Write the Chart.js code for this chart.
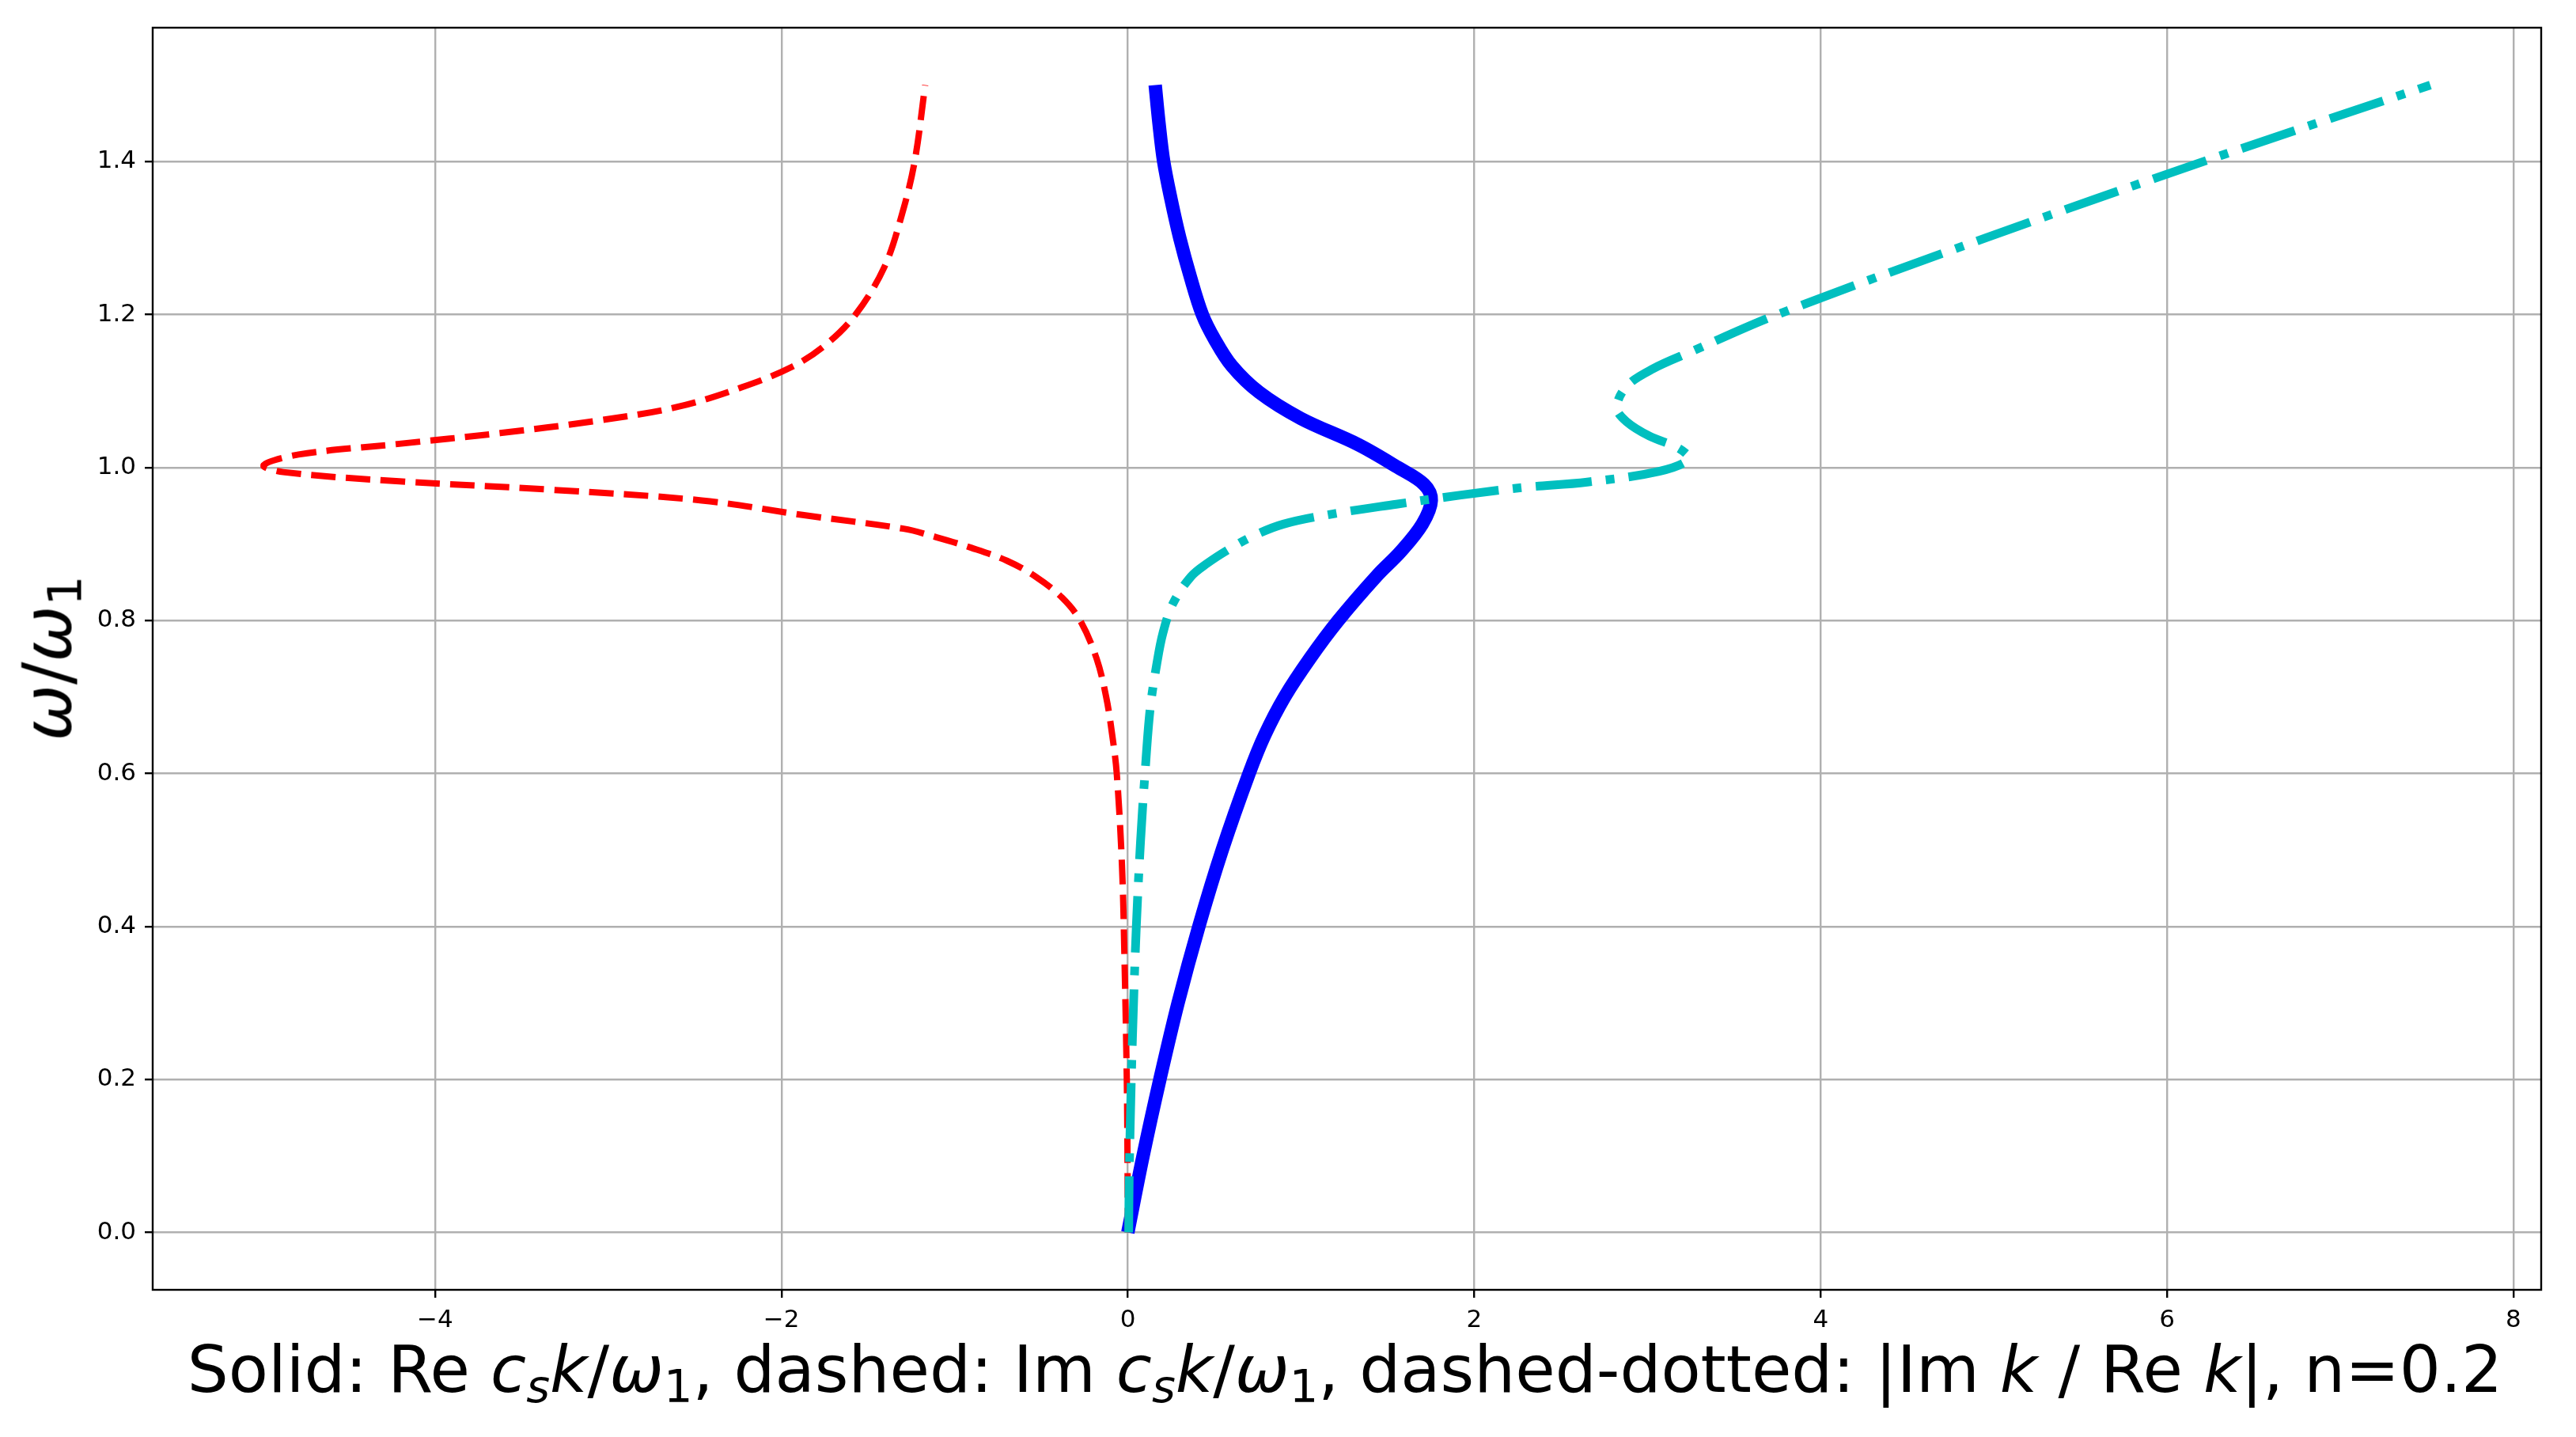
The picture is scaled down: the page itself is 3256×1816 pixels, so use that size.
<!DOCTYPE html>
<html>
<head>
<meta charset="utf-8">
<script src="https://cdn.jsdelivr.net/npm/chart.js@4.4.1/dist/chart.umd.min.js"></script>
<style>
  html, body { margin: 0; padding: 0; background: #fff; }
  #wrap { position: relative; width: 3256px; height: 1816px; background: #fff; }
  #dispersionChart { position: absolute; left: 0; top: 0; }
  .label { position: absolute; font-family: "DejaVu Sans", sans-serif; font-size: 82px; line-height: 1; color: #000; white-space: nowrap; }
  .label i { font-style: italic; }
  .label sub { font-size: 70%; vertical-align: -0.22em; line-height: 0; }
  #xlabel { left: 1700px; top: 1690px; transform: translateX(-50%); }
  #ylabel { font-size: 85px; left: 60px; top: 832px; transform: translate(-50%, -50%) rotate(-90deg); }
</style>
</head>
<body>
<div id="wrap">
  <canvas id="dispersionChart" width="3256" height="1816"></canvas>
  <div class="label" id="ylabel"><i>ω</i>/<i>ω</i><sub>1</sub></div>
  <div class="label" id="xlabel">Solid: Re <i>c</i><sub><i>s</i></sub><i>k</i>/<i>ω</i><sub>1</sub>, dashed: Im <i>c</i><sub><i>s</i></sub><i>k</i>/<i>ω</i><sub>1</sub>, dashed-dotted: |Im <i>k</i> / Re <i>k</i>|, n=0.2</div>
</div>
<script>
// Re c_s k / w1 (solid) against w/w1
const omegaRe = [0, 0.1, 0.2, 0.3, 0.4, 0.5, 0.6, 0.65, 0.7, 0.75, 0.8, 0.859, 0.89, 0.926, 0.957, 0.978, 1.0, 1.03, 1.064, 1.098, 1.133, 1.168, 1.2, 1.25, 1.3, 1.35, 1.4, 1.45, 1.5];
const reK = [0, 0.088, 0.185, 0.29, 0.41, 0.545, 0.7, 0.79, 0.905, 1.05, 1.215, 1.44, 1.575, 1.7, 1.752, 1.71, 1.56, 1.33, 1.0, 0.76, 0.6, 0.5, 0.43, 0.36, 0.3, 0.25, 0.207, 0.18, 0.158];

// Im c_s k / w1 (dashed)
const omegaIm = [0, 0.1, 0.2, 0.365, 0.481, 0.6, 0.65, 0.7, 0.75, 0.8, 0.83, 0.857, 0.878, 0.895, 0.909, 0.92, 0.938, 0.957, 0.971, 0.982, 0.994, 1.003, 1.017, 1.031, 1.045, 1.061, 1.079, 1.105, 1.132, 1.16, 1.2, 1.262, 1.331, 1.4, 1.5];
const imK = [0, -0.002, -0.006, -0.02, -0.034, -0.064, -0.09, -0.125, -0.18, -0.275, -0.38, -0.53, -0.697, -0.902, -1.107, -1.295, -1.878, -2.46, -3.333, -4.206, -4.876, -4.99, -4.788, -4.206, -3.624, -3.071, -2.605, -2.227, -1.936, -1.747, -1.572, -1.406, -1.304, -1.231, -1.17];

// |Im k / Re k| (dashed-dotted)
const omegaRatio = [0, 0.074, 0.2, 0.307, 0.4, 0.51, 0.6, 0.685, 0.743, 0.784, 0.822, 0.857, 0.875, 0.892, 0.909, 0.926, 0.94, 0.952, 0.964, 0.974, 0.981, 0.995, 1.011, 1.025, 1.041, 1.06, 1.078, 1.106, 1.129, 1.152, 1.2, 1.3, 1.4, 1.5];
const ratioK = [0.005, 0.008, 0.02, 0.034, 0.049, 0.073, 0.099, 0.129, 0.167, 0.203, 0.26, 0.363, 0.46, 0.575, 0.71, 0.898, 1.2, 1.55, 1.923, 2.288, 2.652, 3.068, 3.239, 3.182, 3.012, 2.879, 2.823, 2.879, 3.031, 3.258, 3.75, 4.95, 6.21, 7.52];

// axis ranges and ticks
const xRange = [-5.63, 8.16];
const yRange = [-0.075, 1.575];
const xStep = 2;
const yStep = 0.2;

function toPoints(xs, ys) {
    return xs.map((x, i) => ({ x: x, y: ys[i] }));
}

// black frame round the plot area, drawn over the curves like matplotlib spines
const framePlugin = {
    id: 'frame',
    afterDraw(chart) {
        const a = chart.chartArea;
        const ctx = chart.ctx;
        ctx.save();
        ctx.strokeStyle = '#000';
        ctx.lineWidth = 2.4;
        ctx.strokeRect(a.left, a.top, a.right - a.left, a.bottom - a.top);
        ctx.restore();
    }
};

const tickFont = { family: 'DejaVu Sans', size: 31 };
const gridStyle = { color: '#b0b0b0', lineWidth: 2.4, tickLength: 10, tickColor: '#000', tickWidth: 2.4 };

const ctx = document.getElementById('dispersionChart').getContext('2d');
const dispersionChart = new Chart(ctx, {
    type: 'scatter',
    data: {
        datasets: [
            {
                label: '|Im k / Re k|',
                data: toPoints(ratioK, omegaRatio),
                borderColor: '#00bfbf',
                borderWidth: 11,
                borderDash: [71, 18, 11, 18],
                borderCapStyle: 'butt',
                showLine: true,
                pointRadius: 0,
                tension: 0.35
            },
            {
                label: 'Im c_s k / w1',
                data: toPoints(imK, omegaIm),
                borderColor: '#ff0000',
                borderWidth: 8,
                borderDash: [31, 13],
                borderCapStyle: 'butt',
                showLine: true,
                pointRadius: 0,
                tension: 0.35
            },
            {
                label: 'Re c_s k / w1',
                data: toPoints(reK, omegaRe),
                borderColor: '#0000ff',
                borderWidth: 17,
                borderJoinStyle: 'round',
                showLine: true,
                pointRadius: 0,
                tension: 0.35
            }
        ]
    },
    options: {
        responsive: false,
        devicePixelRatio: 1,
        animation: false,
        layout: { padding: { left: 73, top: 35, right: 44, bottom: 106 } },
        plugins: {
            legend: { display: false },
            tooltip: { enabled: false }
        },
        scales: {
            x: {
                type: 'linear',
                min: xRange[0],
                max: xRange[1],
                grid: gridStyle,
                border: { display: false },
                ticks: {
                    stepSize: xStep,
                    includeBounds: false,
                    autoSkip: false,
                    maxRotation: 0,
                    padding: 10,
                    color: '#000',
                    font: tickFont,
                    callback: v => (v < 0 ? '\u2212' + Math.abs(v) : String(v))
                },
                afterFit: scale => { scale.height = 80; }
            },
            y: {
                type: 'linear',
                min: yRange[0],
                max: yRange[1],
                grid: gridStyle,
                border: { display: false },
                ticks: {
                    stepSize: yStep,
                    includeBounds: false,
                    autoSkip: false,
                    padding: 11,
                    color: '#000',
                    font: tickFont,
                    callback: v => Math.abs(v).toFixed(1)
                },
                afterFit: scale => { scale.width = 120; }
            }
        }
    },
    plugins: [framePlugin]
});
</script>
</body>
</html>
